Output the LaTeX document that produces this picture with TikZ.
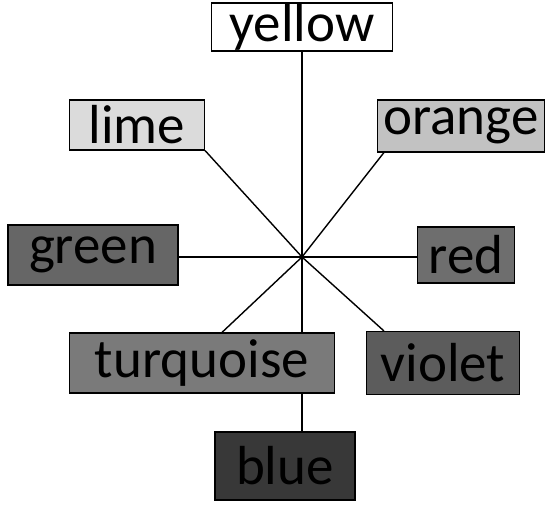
\documentclass[tikz,border=0pt]{standalone}
\usepackage{fontspec}
\setmainfont{Carlito}
\usetikzlibrary{backgrounds}

\tikzset{
	colbox/.style={draw=black, line width=1.2pt, inner sep=0pt, anchor=center,
		font=\fontsize{55}{55}\selectfont, text=black},
	spoke/.style={draw=black, line width=1.4pt}
}

\begin{document}
\begin{tikzpicture}[x=1pt, y=-1pt]
\useasboundingbox (0,0) rectangle (560,505);
\coordinate (c) at (302, 257);
\node[colbox, fill=white, minimum width=181pt, minimum height=48pt] (yellow) at (302, 27){yellow};
\node[colbox, fill=black!14, minimum width=135pt, minimum height=50pt] (lime) at (137, 125){lime};
\node[colbox, fill=black!24, minimum width=167pt, minimum height=52pt] (orange) at (461, 126){orange};
\node[colbox, fill=black!60, minimum width=170pt, minimum height=60pt] (green) at (93, 255){green};
\node[colbox, fill=black!57, minimum width=97pt, minimum height=56pt] (red) at (466, 255){red};
\node[colbox, fill=black!52, minimum width=265pt, minimum height=60pt] (turquoise) at (202, 363){turquoise};
\node[colbox, fill=black!64, minimum width=153pt, minimum height=63pt] (violet) at (443, 363){violet};
\node[colbox, fill=black!78, minimum width=140pt, minimum height=68pt] (blue) at (285, 466){blue};
\begin{scope}[on background layer]
\draw[spoke] (c) -- (c |- yellow.south);
\draw[spoke] (c) -- (lime.south east);
\draw[spoke] (c) -- ([xshift=7pt]orange.south west);
\draw[spoke] (c) -- (green.east |- c);
\draw[spoke] (c) -- (red.west |- c);
\draw[spoke] (c) -- ([xshift=20pt]turquoise.north);
\draw[spoke] (c) -- ([xshift=18pt]violet.north west);
\draw[spoke] (c) -- (c |- blue.north);
\end{scope}
\end{tikzpicture}
\end{document}
